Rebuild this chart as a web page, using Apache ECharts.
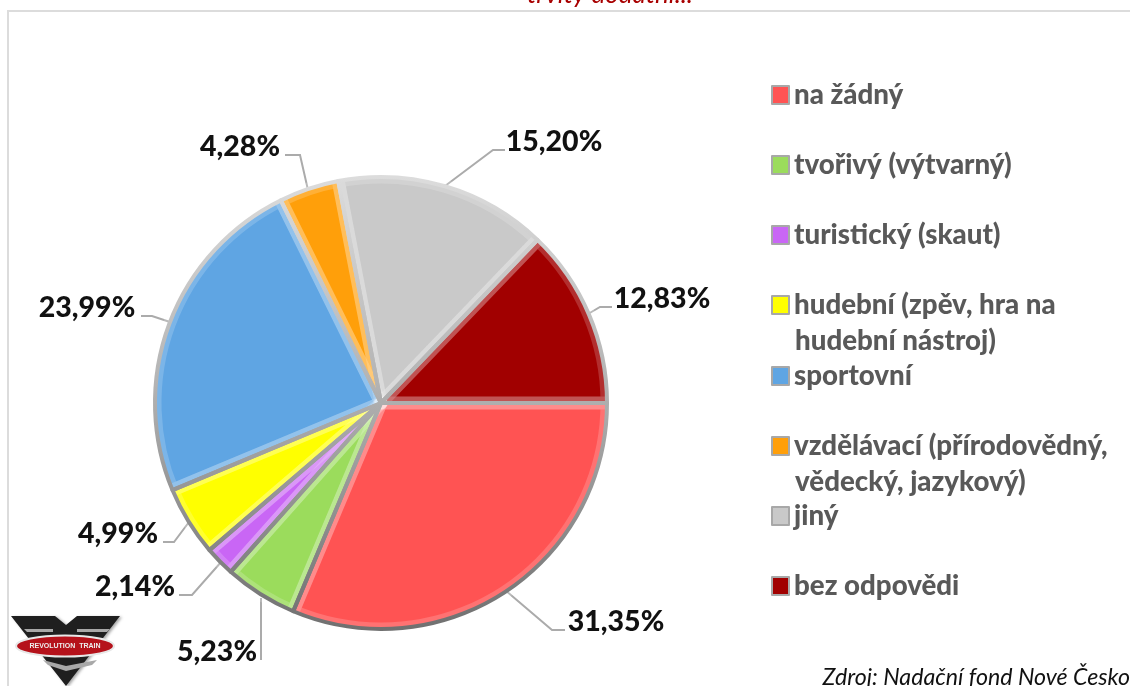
<!DOCTYPE html>
<html><head><meta charset="utf-8">
<style>html,body{margin:0;padding:0;background:#fff}#c{width:1130px;height:686px}</style>
<script src="https://cdn.jsdelivr.net/npm/echarts@6/dist/echarts.min.js"></script>
</head><body><div id="c"></div>
<script>
const categories = ['na žádný','tvořivý (výtvarný)','turistický (skaut)','hudební (zpěv, hra na\nhudební nástroj)','sportovní','vzdělávací (přírodovědný,\nvědecký, jazykový)','jiný','bez odpovědi'];
const values = [31.35,5.23,2.14,4.99,23.99,4.28,15.20,12.83];
const colors = ['#ff5353','#9bdc5c','#c966f5','#ffff00','#5fa5e3','#ff9f0a','#c9c9c9','#a10000'];
const labelPos = [[616,622],[217,652],[135,587],[118,534],[87,308],[240,147],[554,142],[662,299]];
const linePts = [
 [[505,590],[552,630],[565,630]],
 [[261,598],[261,630],[261,660]],
 [[222,561],[192,595],[179,595]],
 [[189,522],[174,542],[163,542]],
 [[170,322],[152,316],[141,316]],
 [[308,190],[300,155],[285,155]],
 [[445,186],[493,150],[505,150]],
 [[588,314],[600,307],[612,307]]
];
const legendY = [95,165,235,305,376,446,516,586];

const chart = echarts.init(document.getElementById('c'));
const center = [381,403], radius = 226;
const pieData = categories.map((n,i)=>({name:n,value:values[i]}));
const overlay = (width,color)=>({
  type:'pie',center,radius:[0,radius],startAngle:0,silent:true,animation:false,
  label:{show:false},labelLine:{show:false},emphasis:{disabled:true},
  itemStyle:{color:'rgba(0,0,0,0)',borderColor:color,borderWidth:width},
  data:pieData
});
const edgeGradient = {type:'linear',x:381,y:177,x2:381,y2:629,global:true,colorStops:[
  {offset:0,color:'#dcdcdc'},{offset:0.45,color:'#b4b4b4'},{offset:1,color:'#707070'}]};
const legends = categories.map((n,i)=>({
  orient:'vertical',left:771,top:legendY[i]-16,padding:0,itemWidth:17,itemHeight:18,
  icon:'rect',selectedMode:false,
  data:[{name:n,itemStyle:{color:colors[i],borderColor:'#a8a8a8',borderWidth:2}}],
  formatter:s=>s.split('\n')[0],
  textStyle:{fontFamily:'Lato',fontWeight:900,fontSize:27.7,color:'#595959',lineHeight:32}
}));
const contLines = [];
categories.forEach((n,i)=>{const p=n.split('\n');if(p[1])contLines.push({
  type:'text',z:10,style:{x:795,y:legendY[i]+36,text:p[1],fill:'#595959',font:'900 27.7px Lato',verticalAlign:'middle'}});});

const option = {
  animation:false,
  title:{show:false},
  legend:legends,
  series:[
    {type:'pie',center,radius:[0,radius],startAngle:0,avoidLabelOverlap:false,animation:false,
     data:categories.map((n,i)=>({name:n,value:values[i],itemStyle:{color:colors[i]}})),
     emphasis:{disabled:true},
     itemStyle:{borderWidth:0},
     label:{show:true,position:'outside',fontFamily:'Lato',fontWeight:900,fontSize:28.5,color:'#111111',
       formatter:p=>p.value.toFixed(2).replace('.',',')+'%'},
     labelLine:{show:true,lineStyle:{color:'#ababab',width:2}},
     labelLayout:p=>({x:labelPos[p.dataIndex][0],y:labelPos[p.dataIndex][1],align:'center',verticalAlign:'middle',
       labelLinePoints:linePts[p.dataIndex]})
    },
    overlay(13,'rgba(255,255,255,0.18)'),
    overlay(4,edgeGradient)
  ],
  graphic:[
    {type:'polyline',z:0,shape:{points:[[8,686],[8,11],[1130,11]]},style:{stroke:'#dcdcdc',lineWidth:2,fill:null}},
    {type:'text',z:5,style:{x:610,y:-5,text:'trvity dodatni...',fill:'#a80000',font:'italic 26px Lato',align:'center',verticalAlign:'middle'}},
    {type:'text',z:5,style:{x:1130,y:678,text:'Zdroj: Nadační fond Nové Česko',fill:'#111',font:'italic 23.2px Lato',align:'right',verticalAlign:'middle'}},
    // logo
    {type:'polygon',z:5,shape:{points:[[11,616],[55,616],[66,625],[77,616],[120,616],[66,686]]},style:{fill:'#1f1f1f',shadowBlur:3,shadowColor:'rgba(0,0,0,0.35)',shadowOffsetX:2,shadowOffsetY:1}},
    {type:'polygon',z:6,shape:{points:[[24,629],[53,629],[53,632],[27,632]]},style:{fill:'#a8a8a8'}},
    {type:'polygon',z:6,shape:{points:[[110,629],[77,629],[77,632],[107,632]]},style:{fill:'#a8a8a8'}},
    {type:'polygon',z:6,shape:{points:[[43,660],[66,666],[97,660],[92,665],[66,671],[48,665]]},style:{fill:'#a8a8a8'}},
    {type:'ellipse',z:7,shape:{cx:65,cy:646,rx:49,ry:10.5},style:{fill:'#b5121b',stroke:'#e8e8e8',lineWidth:2}},
    {type:'text',z:8,style:{x:65,y:646,text:'REVOLUTION  TRAIN',fill:'#eeeeee',font:'bold 7px "Liberation Sans"',align:'center',verticalAlign:'middle'}},
    ...contLines
  ]
};
chart.setOption(option);
</script></body></html>
